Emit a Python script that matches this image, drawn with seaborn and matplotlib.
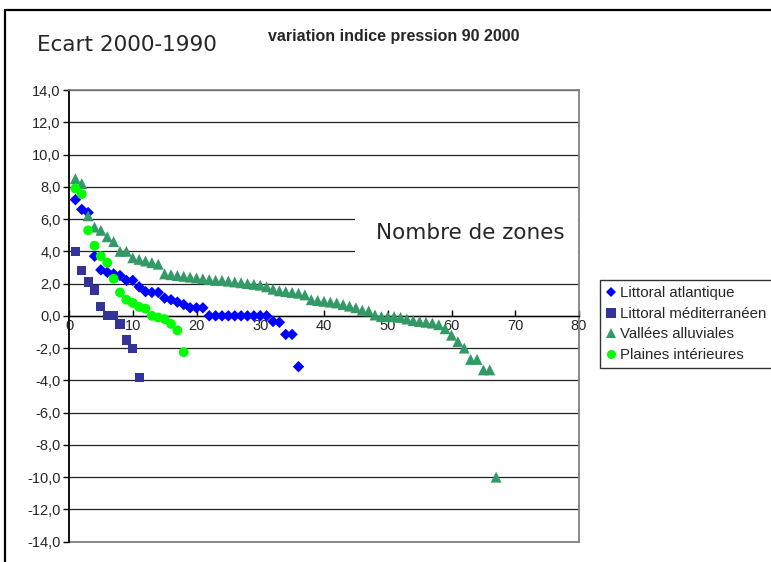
import pandas as pd
import matplotlib.pyplot as plt
import seaborn as sns
from matplotlib.lines import Line2D
from matplotlib.patches import Rectangle
from matplotlib.ticker import FuncFormatter, MultipleLocator

# values, one point per zone (zones numbered from 1)
atlantique = [7.2, 6.6, 6.4, 3.7, 2.85, 2.7, 2.6, 2.5, 2.2, 2.2,
              1.8, 1.5, 1.45, 1.45, 1.1, 1.0, 0.85, 0.7, 0.5, 0.5,
              0.5, 0.0, 0.0, 0.0, 0.0, 0.0, 0.0, 0.0, 0.0, 0.0,
              0.0, -0.35, -0.4, -1.15, -1.15, -3.15]
mediterranee = [4.0, 2.8, 2.1, 1.6, 0.6, 0.0, 0.0, -0.5, -1.5, -2.0, -3.8]
vallees = [8.5, 8.2, 6.2, 5.5, 5.3, 4.9, 4.6, 4.0, 4.0, 3.6,
           3.5, 3.4, 3.3, 3.2, 2.6, 2.55, 2.5, 2.45, 2.4, 2.35,
           2.3, 2.25, 2.2, 2.2, 2.15, 2.1, 2.05, 2.0, 1.95, 1.9,
           1.8, 1.65, 1.55, 1.5, 1.45, 1.4, 1.3, 1.0, 0.95, 0.9,
           0.85, 0.8, 0.7, 0.6, 0.5, 0.35, 0.3, 0.05, -0.05, -0.05,
           -0.05, -0.1, -0.2, -0.3, -0.35, -0.4, -0.45, -0.55, -0.8, -1.2,
           -1.6, -2.0, -2.7, -2.7, -3.35, -3.35, -10.0]
plaines = [7.9, 7.55, 5.3, 4.35, 3.7, 3.3, 2.3, 1.45, 1.0, 0.8,
           0.55, 0.45, 0.0, -0.1, -0.2, -0.5, -0.9, -2.25]

series_names = ['Littoral atlantique', 'Littoral méditerranéen',
                'Vallées alluviales', 'Plaines intérieures']
series_values = [atlantique, mediterranee, vallees, plaines]
palette = {'Littoral atlantique': '#0000FF', 'Littoral méditerranéen': '#333399',
           'Vallées alluviales': '#339966', 'Plaines intérieures': '#00FF00'}
markers = {'Littoral atlantique': 'D', 'Littoral méditerranéen': 's',
           'Vallées alluviales': '^', 'Plaines intérieures': 'o'}
sizes = {'Littoral atlantique': 34, 'Littoral méditerranéen': 44,
         'Vallées alluviales': 62, 'Plaines intérieures': 50}

rows = []
for name, vals in zip(series_names, series_values):
    for i, v in enumerate(vals, start=1):
        rows.append({'zone': i, 'ecart': v, 'serie': name})
df = pd.DataFrame(rows)

sns.set_style('white')
plt.rcParams['font.family'] = ['Liberation Sans', 'DejaVu Sans']

fig = plt.figure(figsize=(7.71, 5.62), dpi=100)
ax = fig.add_axes([69 / 771, 1 - 541.7 / 562, 510 / 771, 451.7 / 562])

for name in series_names:
    sns.scatterplot(data=df[df['serie'] == name], x='zone', y='ecart',
                    color=palette[name], marker=markers[name], s=sizes[name],
                    edgecolor='none', linewidth=0, ax=ax, legend=False, zorder=3)

ax.set_xlim(0, 80)
ax.set_ylim(-14, 14)
ax.xaxis.set_major_locator(MultipleLocator(10))
ax.yaxis.set_major_locator(MultipleLocator(2))
ax.yaxis.set_major_formatter(FuncFormatter(lambda v, p: f'{v:.1f}'.replace('.', ',')))
ax.set_xlabel('')
ax.set_ylabel('')

ax.set_axisbelow(True)
ax.yaxis.grid(True, color='#222222', lw=0.9)
ax.xaxis.grid(False)

ax.spines['bottom'].set_position(('data', 0))
ax.spines['bottom'].set_color('black')
ax.spines['bottom'].set_linewidth(1.0)
ax.spines['left'].set_color('black')
ax.spines['left'].set_linewidth(1.3)
for side in ['top', 'right']:
    ax.spines[side].set_color('#808080')
    ax.spines[side].set_linewidth(1.3)
ax.axhline(-14, color='#808080', lw=1.3, clip_on=False, zorder=2.5)

ax.tick_params(axis='x', direction='in', length=4, width=1, color='black',
               labelsize=10.5, pad=2, bottom=True)
ax.tick_params(axis='y', direction='out', length=4, width=1, color='black',
               labelsize=10.5, pad=2, left=True)

# white box left over from the moved axis title
ax.add_patch(Rectangle((44.9, 3.0), 35, 3.6, facecolor='white',
                       edgecolor='none', zorder=1.5))
fig.text(470 / 771, 1 - 233 / 562, 'Nombre de zones', ha='center', va='center',
         family='DejaVu Sans', fontsize=15.5)

fig.text(37 / 771, 1 - 45 / 562, 'Ecart 2000-1990', ha='left', va='center',
         family='DejaVu Sans', fontsize=15.5)
fig.text(268 / 771, 1 - 36 / 562, 'variation indice pression 90 2000',
         ha='left', va='center', fontweight='bold', fontsize=11.5)

handles = [Line2D([], [], linestyle='none', marker=markers[n], color=palette[n],
                  markersize=6.5 if markers[n] != 'D' else 5.5, markeredgewidth=0)
           for n in series_names]
leg = ax.legend(handles, series_names, loc='upper left',
                bbox_to_anchor=(600 / 771, 1 - 280 / 562),
                bbox_transform=fig.transFigure, frameon=True, fancybox=False,
                fontsize=10.8, labelspacing=0.45, handlelength=0.6,
                handletextpad=0.3, borderpad=0.4, borderaxespad=0)
leg.get_frame().set_edgecolor('black')
leg.get_frame().set_linewidth(1.0)

# outer chart border, cut off at right and bottom
fig.add_artist(Line2D([5 / 771, 1], [1 - 10 / 562] * 2, color='black', lw=1.6))
fig.add_artist(Line2D([5 / 771] * 2, [0, 1 - 10 / 562], color='black', lw=1.6))

fig.savefig('out.png', dpi=100)
